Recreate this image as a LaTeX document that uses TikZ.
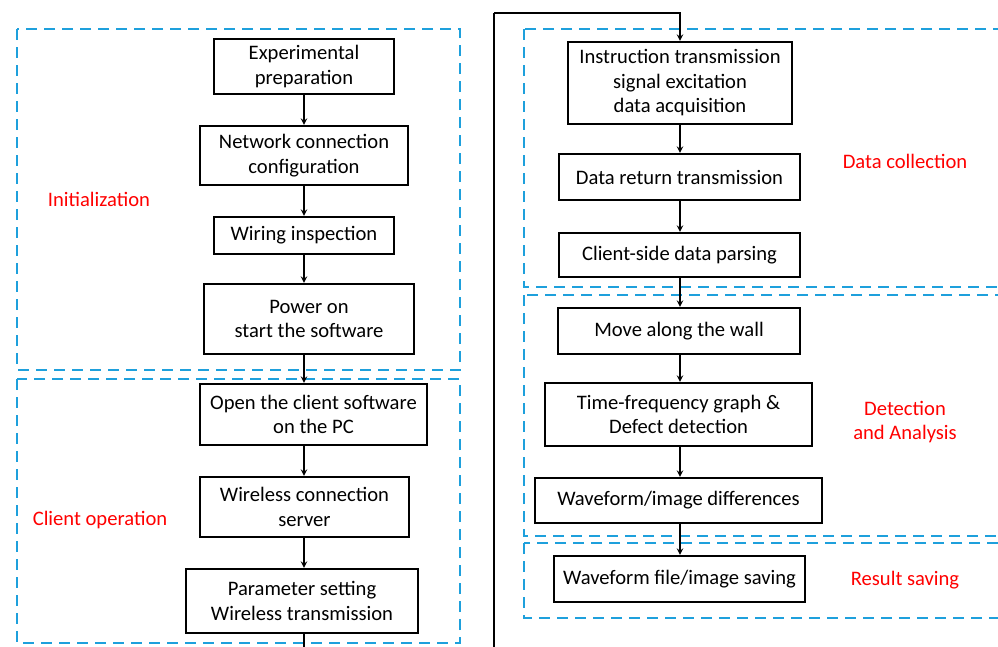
\documentclass[tikz,border=0pt]{standalone}
\usepackage{fontspec}
\setmainfont{Carlito}
\usetikzlibrary{arrows}

\definecolor{dashblue}{RGB}{30,160,220}
\tikzstyle{block} = [rectangle, inner sep=0pt, text centered, align=center, draw=black, line width=2.1pt, font=\fontsize{20.6}{24.5}\selectfont]
\tikzstyle{arrow} = [line width=1.9pt,->,>=stealth]
\tikzstyle{group} = [dashblue, line width=2.6pt, dash pattern=on 11pt off 7pt]
\tikzstyle{label} = [red, align=center, font=\fontsize{20.6}{24.5}\selectfont]

\begin{document}
\begin{tikzpicture}[x=1pt,y=-1pt]
\useasboundingbox (0,0) rectangle (998,646);
\clip (0,0) rectangle (998,646);

% dashed groups
\draw [group] (17,29) rectangle (460,370);
\draw [group] (17,379) rectangle (460,643);
\draw [group] (524,29) rectangle (1010,287);
\draw [group] (524,295) rectangle (1010,536);
\draw [group] (524,543) rectangle (1010,618);

\node (linit) [label] at (99,199) {Initialization};
\node (lclient) [label] at (100,520) {Client operation};
\node (ldata) [label] at (905,161) {Data collection};
\node (ldetect) [label] at (905,422) {Detection\\and Analysis};
\node (lsave) [label] at (905,580) {Result saving};

% left column
\node (prep) [block, minimum width=180, minimum height=55] at (304,66.5) {Experimental\\preparation};
\node (netw) [block, minimum width=208, minimum height=59] at (304,155.5) {Network connection\\configuration};
\node (wiring) [block, minimum width=180, minimum height=37] at (304,235.5) {Wiring inspection};
\node (power) [block, minimum width=210, minimum height=70] at (309,319) {Power on\\start the software};
\node (openc) [block, minimum width=227, minimum height=61] at (313.5,414.5) {Open the client software\\on the PC};
\node (wless) [block, minimum width=209, minimum height=60] at (304.5,507) {Wireless connection\\server};
\node (param) [block, minimum width=232, minimum height=64] at (302,601) {Parameter setting\\Wireless transmission};

% right column
\node (instr) [block, minimum width=224, minimum height=82] at (680,83) {Instruction transmission\\signal excitation\\data acquisition};
\node (dret) [block, minimum width=241, minimum height=46] at (679.5,177) {Data return transmission};
\node (parse) [block, minimum width=241, minimum height=44] at (679.5,255) {Client-side data parsing};
\node (move) [block, minimum width=242, minimum height=46] at (679,331) {Move along the wall};
\node (tfg) [block, minimum width=267, minimum height=63] at (678.5,414.5) {Time-frequency graph \&\\Defect detection};
\node (wdiff) [block, minimum width=287, minimum height=45] at (678.5,500.5) {Waveform/image differences};
\node (fsave) [block, minimum width=251, minimum height=46] at (679.5,579) {Waveform file/image saving};

\coordinate (lowL) at (304,660);
\coordinate (lowR) at (494,660);
\coordinate (topR) at (494,13);
\coordinate (cx) at (304,0);
\coordinate (rx) at (680,0);

\draw [arrow] (prep.south -| cx) -- (netw.north -| cx);
\draw [arrow] (netw.south -| cx) -- (wiring.north -| cx);
\draw [arrow] (wiring.south -| cx) -- (power.north -| cx);
\draw [arrow] (power.south -| cx) -- (openc.north -| cx);
\draw [arrow] (openc.south -| cx) -- (wless.north -| cx);
\draw [arrow] (wless.south -| cx) -- (param.north -| cx);

\draw [line width=2.1pt] (param.south -| cx) -- (lowL) -- (lowR) -- (topR);
\draw [arrow] (topR) -| (instr.north -| rx);

\draw [arrow] (instr.south -| rx) -- (dret.north -| rx);
\draw [arrow] (dret.south -| rx) -- (parse.north -| rx);
\draw [arrow] (parse.south -| rx) -- (move.north -| rx);
\draw [arrow] (move.south -| rx) -- (tfg.north -| rx);
\draw [arrow] (tfg.south -| rx) -- (wdiff.north -| rx);
\draw [arrow] (wdiff.south -| rx) -- (fsave.north -| rx);
\end{tikzpicture}
\end{document}
